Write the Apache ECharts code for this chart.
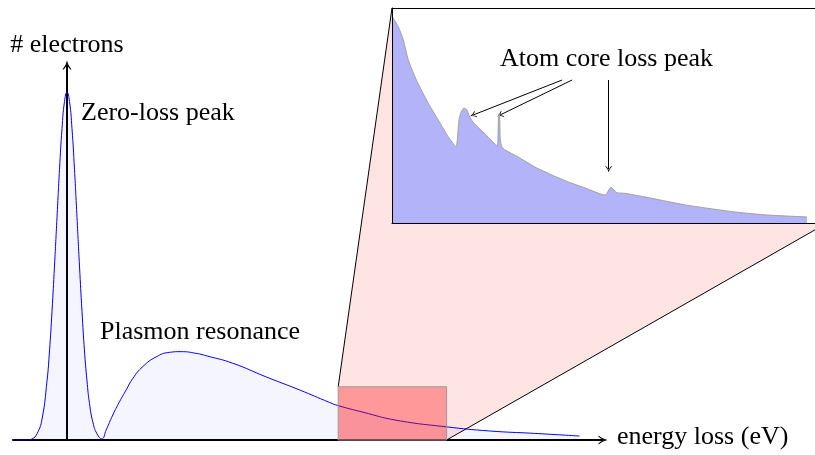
<!DOCTYPE html>
<html><head><meta charset="utf-8">
<script src="https://cdn.jsdelivr.net/npm/echarts@6/dist/echarts.min.js"></script>
<style>html,body{margin:0;padding:0;background:#fff}#c{width:815px;height:455px}</style>
</head><body><div id="c"></div>
<script>
// Main EELS spectrum (energy loss in arbitrary units, counts in % of zero-loss peak)
const spectrumX = [-5.4, -4, -3.5, -3, -2.5, -2, -1.75, -1.5, -1.25, -1, -0.75, -0.5, -0.25, 0, 0.25, 0.5, 0.75, 1, 1.25, 1.5, 1.75, 2, 2.25, 2.6, 3, 3.48, 3.92, 4.58, 5.25, 5.92, 6.58, 7.58, 8.92, 10.25, 11.42, 12.92, 14.08, 16.55, 19.95, 23.25, 26.25, 27.1, 29.6, 32.9, 37.9, 42.25, 46.75, 51.25];
const spectrumY = [0, 0, 0.3, 1.8, 6, 17, 25.6, 37, 50, 64, 77.8, 89.5, 97.3, 100, 97.3, 89.5, 77.8, 64, 50, 37, 25.6, 17, 10.5, 5, 1.8, 0.3, 2.9, 7.2, 11.0, 14.4, 17.7, 21.1, 23.9, 25.2, 25.4, 24.9, 24.1, 22.1, 18.1, 14.4, 10.8, 9.9, 8, 5.7, 3.8, 2.6, 1.9, 1.15];

// Zoomed region (core-loss inset) in main-chart units
const zoomRegionX = [27.12, 37.96];
const zoomRegionY = [0, 15.3];

// Inset core-loss spectrum (inset units; full inset box spans 0..100, visible part 0..97.24)
const coreX = [0.05, 1.45, 2.6, 3.75, 5.6, 8.34, 10.64, 12.94, 14.7, 15.4, 15.9, 16.55, 17.2, 17.9, 18.6, 20.2, 22.1, 23.7, 24.25, 24.5, 24.7, 24.9, 25.3, 26, 29, 32.9, 36.8, 40.5, 44.4, 49, 50.3, 51.7, 53.6, 59.7, 67.4, 78.9, 86.4, 95.4];
const coreY = [96, 91.3, 85.1, 75.8, 66.5, 55.7, 47.9, 40.1, 35.5, 47.9, 51.6, 53.5, 52.6, 49.3, 47, 43.7, 40, 36.7, 35.8, 50.2, 51.2, 38.6, 35.3, 34, 30.7, 26, 22.3, 19.1, 16.3, 13, 16.6, 14.1, 13.8, 11.5, 8.4, 5.1, 3.7, 2.8];
const insetBox = [0, 100];
const insetVisibleMax = 97.24;

// Annotation arrows in inset units: [fromX, fromY, toX, toY]
const peakArrows = [[39.1, 66.5, 18.6, 50.2], [41.4, 66.5, 24.8, 50.2], [49.8, 66.5, 49.8, 25]];

const labelZero = 'Zero-loss peak';
const labelPlasmon = 'Plasmon resonance';
const labelCore = 'Atom core loss peak';
const axisNameX = 'energy loss (eV)';
const axisNameY = '# electrons';

const FONT = '"Liberation Serif", "Times New Roman", serif';
const chevron = 'path://M5,0 Q6.2,6 10,10 L8.6,10 Q6,7.5 5,3.2 Q4,7.5 1.4,10 L0,10 Q3.8,6 5,0 Z';

const chart = echarts.init(document.getElementById('c'), null, {renderer: 'canvas'});

const txt = (id, text, x, y) => ({
  type: 'text', id, x, y, z: 50,
  style: {text, font: '26px ' + FONT, fill: '#000', textAlign: 'left', textVerticalAlign: 'middle'}
});
const insetAxisLine = {show: true, onZero: false, lineStyle: {color: '#000', width: 1}};
const hidden = {axisTick: {show: false}, axisLabel: {show: false}, splitLine: {show: false}};

chart.setOption({
  animation: false,
  backgroundColor: '#fff',
  grid: [
    {left: 13, right: 212, top: 65, bottom: 15, containLabel: false},
    {left: 392, right: 0, top: 8, height: 215, show: true, backgroundColor: '#fff', borderWidth: 0, z: 3}
  ],
  xAxis: [
    Object.assign({type: 'value', gridIndex: 0, min: -5.4, max: 53.6,
     axisLine: {show: true, onZero: true, lineStyle: {color: '#000', width: 2}, symbol: ['none', chevron], symbolSize: [11, 9]}}, hidden),
    Object.assign({type: 'value', gridIndex: 1, min: insetBox[0], max: insetVisibleMax, position: 'bottom', axisLine: insetAxisLine, z: 6}, hidden),
    Object.assign({type: 'value', gridIndex: 1, min: insetBox[0], max: insetVisibleMax, position: 'top', axisLine: insetAxisLine, z: 6}, hidden)
  ],
  yAxis: [
    Object.assign({type: 'value', gridIndex: 0, min: 0, max: 107.8,
     axisLine: {show: true, onZero: true, lineStyle: {color: '#000', width: 2}, symbol: ['none', chevron], symbolSize: [11, 9]},
     name: axisNameY, nameLocation: 'end', nameGap: 20,
     nameTextStyle: {fontFamily: FONT, fontSize: 26, color: '#000', align: 'center', verticalAlign: 'middle'}}, hidden),
    Object.assign({type: 'value', gridIndex: 1, min: insetBox[0], max: insetBox[1], position: 'left', axisLine: insetAxisLine, z: 6}, hidden)
  ],
  series: [
    {type: 'line', xAxisIndex: 0, yAxisIndex: 0, showSymbol: false, smooth: 0.5,
     data: spectrumX.map((x, i) => [x, spectrumY[i]]),
     lineStyle: {color: '#0000ff', width: 1},
     areaStyle: {color: 'rgba(0,0,255,0.055)'}},
    {type: 'line', xAxisIndex: 1, yAxisIndex: 1, showSymbol: false, smooth: 0.2, z: 5,
     data: coreX.map((x, i) => [x, coreY[i]]),
     lineStyle: {color: '#a0a0a0', width: 1},
     areaStyle: {color: '#b3b3f9', opacity: 1},
     markLine: {
       silent: true, symbol: ['none', chevron], symbolSize: [7, 6],
       label: {show: false},
       lineStyle: {color: '#000', width: 1, type: 'solid'},
       data: peakArrows.map(a => [{coord: [a[0], a[1]]}, {coord: [a[2], a[3]]}])
     }}
  ],
  graphic: [
    txt('tZero', labelZero, 81, 113),
    txt('tPlasmon', labelPlasmon, 100, 332),
    txt('tCore', labelCore, 500, 59.5),
    txt('tAxisX', axisNameX, 617, 437)
  ]
});

// Zoom connector: computed from the axes' own scales
const p1 = chart.convertToPixel({gridIndex: 0}, [zoomRegionX[0], zoomRegionY[1]]);
const p4 = chart.convertToPixel({gridIndex: 0}, [zoomRegionX[1], zoomRegionY[0]]);
const p3 = [p4[0], p1[1]];
const q1 = chart.convertToPixel({gridIndex: 1}, [insetBox[0], insetBox[1]]);
const q2 = chart.convertToPixel({gridIndex: 1}, [insetBox[0], insetBox[0]]);
const q3 = chart.convertToPixel({gridIndex: 1}, [insetBox[1], insetBox[0]]);

chart.setOption({
  graphic: [
    {type: 'polygon', id: 'pink', z: 1, shape: {points: [p1, q1, q2, q3, p4, p3]}, style: {fill: '#ffe4e4', stroke: 'none'}},
    {type: 'line', id: 'l1', z: 6, shape: {x1: p1[0], y1: p1[1], x2: q1[0], y2: q1[1]}, style: {stroke: '#000', lineWidth: 1}},
    {type: 'line', id: 'l2', z: 6, shape: {x1: p4[0], y1: p4[1], x2: q3[0], y2: q3[1]}, style: {stroke: '#000', lineWidth: 1}},
    {type: 'rect', id: 'zoomRect', z: 20, shape: {x: p1[0], y: p1[1], width: p4[0] - p1[0], height: p4[1] - p1[1]},
     style: {fill: 'rgba(255,0,0,0.4)', stroke: '#999', lineWidth: 1}}
  ]
});
</script>
</body></html>
